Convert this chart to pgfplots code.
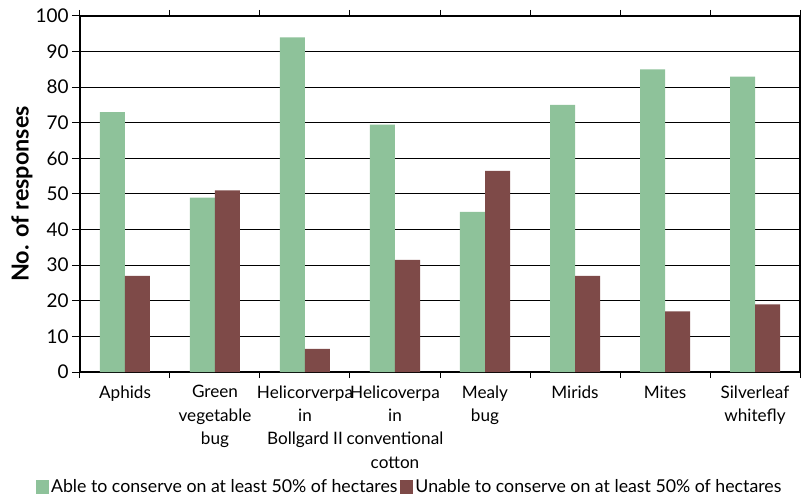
\documentclass[border=0pt]{standalone}
\usepackage{fontspec}
\setmainfont{Lato}
\usepackage{pgfplots}
\pgfplotsset{compat=1.18}
\definecolor{gbar}{HTML}{8EC29A}
\definecolor{bbar}{HTML}{7E4A48}
\begin{document}
\begin{tikzpicture}
\path[use as bounding box] (-80bp,-131bp) rectangle (721bp,372bp);
\begin{axis}[
  scale only axis, width=720bp, height=356bp,
  at={(0,0)}, anchor=south west,
  ybar=0pt, bar width=25bp,
  xmin=-0.5, xmax=7.5, ymin=0, ymax=100,
  ytick={0,10,...,100},
  xtick={0,...,7},
  xticklabels={Aphids, Green\\vegetable\\bug, Helicorverpa\\in\\Bollgard II, Helicoverpa\\in\\conventional\\cotton, Mealy\\bug, Mirids, Mites, Silverleaf\\whitefly},
  xticklabel style={align=center, font=\fontsize{17.2}{23.5}\selectfont, anchor=north, yshift=-2bp},
  yticklabel style={font=\fontsize{19}{21}\selectfont},
  /pgf/number format/assume math mode=true,
  major x tick style={draw=none},
  minor xtick={-0.5,0.5,...,7.5},
  minor tick length=6bp,
  major tick length=8bp,
  tick align=outside,
  tick style={black, line width=1bp},
  ymajorgrids, grid style={black, line width=1bp},
  axis line style={black, line width=1.5bp},
  ylabel={\textbf{No. of responses}},
  ylabel style={at={(axis description cs:-0.0806,0.5)}, anchor=center, font=\fontsize{23.5}{25}\selectfont},
  legend columns=2,
  legend style={at={(axis description cs:0.458,-0.323)}, anchor=center, draw=none, fill=none,
    font=\fontsize{17.8}{20}\selectfont,
    /tikz/every even column/.append style={column sep=1bp}},
  legend image code/.code={\fill[#1] (0bp,-7bp) rectangle (13bp,7bp);},
]
\addplot[fill=gbar, draw=none] coordinates {(0,73) (1,49) (2,94) (3,69.5) (4,45) (5,75) (6,85) (7,83)};
\addplot[fill=bbar, draw=none] coordinates {(0,27) (1,51) (2,6.5) (3,31.5) (4,56.5) (5,27) (6,17) (7,19)};
\legend{Able to conserve on at least 50\% of hectares, Unable to conserve on at least 50\% of hectares}
\end{axis}
\end{tikzpicture}
\end{document}
